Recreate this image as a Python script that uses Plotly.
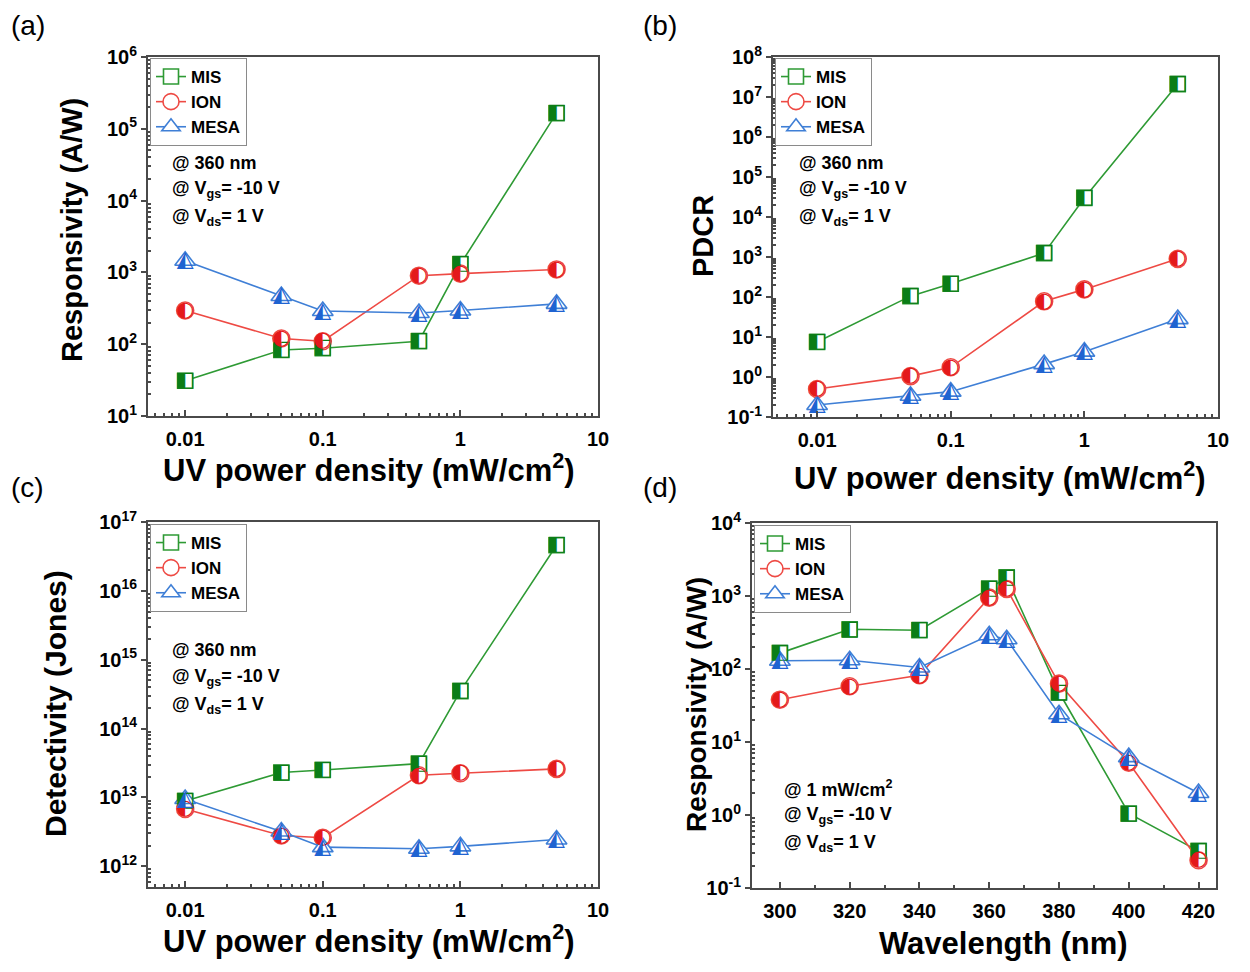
import numpy as np
import plotly.graph_objects as go

# ---------------- data ----------------
power = [0.01, 0.05, 0.1, 0.5, 1, 5]
wavelength = [300, 320, 340, 360, 365, 380, 400, 420]

resp_mis = [31, 83, 88, 110, 1300, 1.65e5]
resp_ion = [295, 120, 110, 900, 960, 1100]
resp_mesa = [1450, 470, 290, 272, 295, 365]

pdcr_mis = [7.5, 105, 215, 1250, 30000, 2.1e7]
pdcr_ion = [0.5, 1.05, 1.75, 78, 155, 900]
pdcr_mesa = [0.2, 0.34, 0.43, 2.1, 4.3, 28]

det_mis = [8.9e12, 2.3e13, 2.5e13, 3.1e13, 3.5e14, 4.6e16]
det_ion = [6.8e12, 2.8e12, 2.6e12, 2.1e13, 2.25e13, 2.6e13]
det_mesa = [9.5e12, 3.2e12, 1.9e12, 1.8e12, 1.95e12, 2.45e12]

wl_mis = [165, 350, 340, 1260, 1800, 48, 1.05, 0.32]
wl_ion = [38, 58, 82, 950, 1250, 63, 5.2, 0.24]
wl_mesa = [130, 132, 105, 290, 255, 24, 6.2, 2.0]

series_names = ["MIS", "ION", "MESA"]

# ---------------- style ----------------
FONT = "Liberation Sans"
line_col = {"MIS": "#2e9a34", "ION": "#ee4a44", "MESA": "#3f7fd6"}
fill_col = {"MIS": "#0b7d16", "ION": "#e4191b", "MESA": "#1f63d1"}
symbol = {"MIS": "square", "ION": "circle", "MESA": "triangle-up"}
glyph = {"MIS": "\u25E7", "ION": "\u25D0", "MESA": "\u25ED"}
msize = {"MIS": 15, "ION": 17, "MESA": 18}
gsize = {"MIS": 21, "ION": 21, "MESA": 22}

W, H = 1250, 972
OFF = 8  # page body margin


def px(x):
    return (x - OFF) / W


def py(y):
    return 1 - (y - OFF) / H


panels = {
    "a": dict(xd=[px(148), px(598)], yd=[py(416), py(57)]),
    "b": dict(xd=[px(773), px(1218)], yd=[py(417), py(57)]),
    "c": dict(xd=[px(148), px(598)], yd=[py(887), py(522)]),
    "d": dict(xd=[px(752), px(1216)], yd=[py(888), py(523)]),
}

fig = go.Figure()

axis_ids = {"a": ("x", "y"), "b": ("x2", "y2"), "c": ("x3", "y3"), "d": ("x4", "y4")}
legend_ids = {"a": "legend", "b": "legend2", "c": "legend3", "d": "legend4"}

data = {
    "a": (power, [resp_mis, resp_ion, resp_mesa]),
    "b": (power, [pdcr_mis, pdcr_ion, pdcr_mesa]),
    "c": (power, [det_mis, det_ion, det_mesa]),
    "d": (wavelength, [wl_mis, wl_ion, wl_mesa]),
}

for key, (xs, ys_list) in data.items():
    xa, ya = axis_ids[key]
    for name, ys in zip(series_names, ys_list):
        fig.add_trace(go.Scatter(
            x=xs, y=ys, mode="lines+markers", name=name,
            xaxis=xa, yaxis=ya, legend=legend_ids[key],
            line=dict(color=line_col[name], width=1.6),
            marker=dict(symbol=symbol[name], size=msize[name], color="white",
                        line=dict(color=line_col[name], width=1.6)),
        ))
    for name, ys in zip(series_names, ys_list):
        fig.add_trace(go.Scatter(
            x=xs, y=ys, mode="text", text=[glyph[name]] * len(xs),
            textposition="middle center", showlegend=False, hoverinfo="skip",
            xaxis=xa, yaxis=ya,
            textfont=dict(family="DejaVu Sans", size=gsize[name], color=fill_col[name]),
        ))


def sup_label(p):
    return "10<sup>%d</sup>" % p


def log_axis(lo, hi, pmin, pmax):
    vals = [10.0 ** p for p in range(pmin, pmax + 1)]
    minors = []
    for p in range(pmin - 1, pmax + 1):
        for m in range(2, 10):
            v = m * 10.0 ** p
            if lo <= np.log10(v) <= hi:
                minors.append(v)
    return vals, minors


tick_font = dict(family=FONT, size=20, color="black", weight="bold")
axcol = "#4a4a4a"

common = dict(showline=True, linecolor=axcol, linewidth=2, mirror=True,
              showgrid=False, zeroline=False, tickfont=tick_font,
              ticklen=6, tickwidth=1.5, tickcolor=axcol, automargin=False)

# x axes for power-density panels
for key, xr in (("a", [-2.27, 1.0]), ("b", [-2.33, 1.0]), ("c", [-2.27, 1.0])):
    xa, ya = axis_ids[key]
    vals, minors = log_axis(xr[0], xr[1], -2, 1)
    axname = "xaxis" + xa[1:]
    fig.update_layout(**{axname: dict(
        common, type="log", range=xr, domain=panels[key]["xd"], anchor=ya,
        ticks="inside", ticklabelstandoff=4,
        tickmode="array", tickvals=vals, ticktext=["0.01", "0.1", "1", "10"],
        minor=dict(tickmode="array", tickvals=minors, ticks="inside", ticklen=3,
                   tickcolor=axcol, showgrid=False),
    )})

# x axis wavelength
fig.update_layout(xaxis4=dict(
    common, type="linear", range=[292, 425], domain=panels["d"]["xd"], anchor="y4",
    ticks="inside", ticklabelstandoff=4,
    tickmode="array", tickvals=list(range(300, 421, 20)),
    minor=dict(tickmode="linear", tick0=290, dtick=10, ticks="inside", ticklen=3,
               tickcolor=axcol, showgrid=False),
))

# y axes
for key, yr in (("a", (1, 6)), ("b", (-1, 8)), ("c", (11.7, 17)), ("d", (-1, 4))):
    xa, ya = axis_ids[key]
    pmin = int(np.ceil(yr[0]))
    pmax = yr[1]
    vals, minors = log_axis(yr[0], yr[1], pmin, pmax)
    axname = "yaxis" + ya[1:]
    fig.update_layout(**{axname: dict(
        common, type="log", range=list(yr), domain=panels[key]["yd"], anchor=xa,
        ticks="outside", ticklen=5, ticklabelstandoff=0,
        tickmode="array", tickvals=vals,
        ticktext=[sup_label(p) for p in range(pmin, pmax + 1)],
        minor=dict(tickmode="array", tickvals=minors, ticks="inside", ticklen=3,
                   tickcolor=axcol, showgrid=False),
    )})

# legends
leg_pos = {"a": (150, 58), "b": (775, 58), "c": (150, 524), "d": (754, 525)}
legend_layout = {}
for key, (lx, ly) in leg_pos.items():
    legend_layout[legend_ids[key]] = dict(
        x=px(lx), y=py(ly), xanchor="left", yanchor="top",
        bgcolor="white", bordercolor="#8a8a8a", borderwidth=1,
        font=dict(family=FONT, size=17, color="black", weight="bold"),
        itemwidth=30, tracegroupgap=0,
    )
fig.update_layout(**legend_layout)

annotations = []


def ann(text, x, y, size, xanchor="left", bold=True, angle=0, yanchor="middle"):
    annotations.append(dict(
        text="<b>%s</b>" % text if bold else text, x=px(x), y=py(y),
        xref="paper", yref="paper", showarrow=False, xanchor=xanchor,
        yanchor=yanchor, textangle=angle,
        font=dict(family=FONT, size=size, color="black"),
    ))


# panel letters
for lab, (x, y) in {"(a)": (9, 25), "(b)": (641, 25), "(c)": (9, 487), "(d)": (641, 487)}.items():
    ann(lab, x, y, 28, bold=False)

# condition notes
note_pos = {"a": (170, 163), "b": (797, 163), "c": (170, 650)}
for key, (x, y) in note_pos.items():
    ann("@ 360 nm", x, y, 18)
    ann("@ V<sub>gs</sub>= -10 V", x, y + 27, 18)
    ann("@ V<sub>ds</sub>= 1 V", x, y + 55, 18)
ann("@ 1 mW/cm<sup>2</sup>", 782, 788, 18)
ann("@ V<sub>gs</sub>= -10 V", 782, 815, 18)
ann("@ V<sub>ds</sub>= 1 V", 782, 843, 18)

# axis titles
ann("Responsivity (A/W)", 72, 230, 29, xanchor="center", angle=-90)
ann("PDCR", 703, 236, 29, xanchor="center", angle=-90)
ann("Detectivity (Jones)", 55, 704, 30, xanchor="center", angle=-90)
ann("Responsivity (A/W)", 696, 705, 28, xanchor="center", angle=-90)
ann("UV power density (mW/cm<sup>2</sup>)", 369, 468, 31, xanchor="center")
ann("UV power density (mW/cm<sup>2</sup>)", 1000, 476, 31, xanchor="center")
ann("UV power density (mW/cm<sup>2</sup>)", 369, 939, 31, xanchor="center")
ann("Wavelength (nm)", 1003, 943, 31, xanchor="center")

fig.update_layout(
    width=W, height=H, margin=dict(l=0, r=0, t=0, b=0, autoexpand=False),
    paper_bgcolor="white", plot_bgcolor="white",
    annotations=annotations, showlegend=True,
    font=dict(family=FONT),
)

fig.write_html("out.html")
